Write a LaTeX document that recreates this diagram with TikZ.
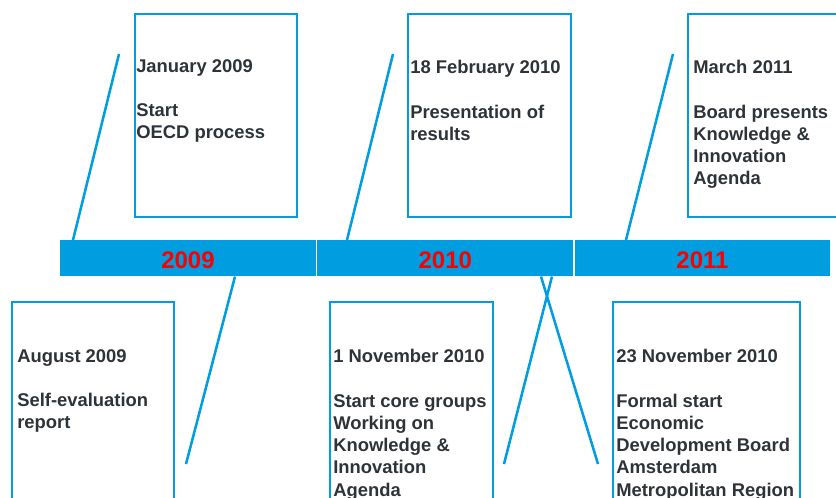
\documentclass[tikz,border=0pt]{standalone}
\usepackage{fontspec}
\setmainfont{Liberation Sans}
\usetikzlibrary{calc,positioning}
\definecolor{Bar}{HTML}{009EE0}
\definecolor{Ink}{HTML}{2E3338}
\definecolor{Year}{HTML}{FA0000}

\begin{document}
\begin{tikzpicture}[x=0.75pt,y=-0.75pt,
  yearbar/.style={rectangle,fill=Bar,inner sep=0pt,minimum height=27pt,anchor=north west,
    text=Year,text height=15pt,font=\fontsize{18pt}{20pt}\selectfont\bfseries},
  eventbox/.style={rectangle,draw=Bar,line width=1.7pt,inner sep=0pt,anchor=north west},
  note/.style={anchor=north west,inner sep=0pt,align=left,text=Ink,
    font=\fontsize{13.8pt}{16.7pt}\selectfont\bfseries},
  pointer/.style={draw=Bar,line width=1.9pt}]
\useasboundingbox (0,0) rectangle (836,497);
\clip (0,0) rectangle (836,497);
% time axis
\node[yearbar,minimum width=191.6pt] (y09) at (60,240) {2009};
\node[yearbar,minimum width=192pt] (y10) at (317,240) {2010};
\node[yearbar,minimum width=191.6pt] (y11) at (574.5,240) {2011};
% events above the axis
\node[eventbox,minimum width=121.5pt,minimum height=152.25pt] (jan09) at (134,13) {};
\node[note] (jan09txt) at ($(jan09.north west)+(2,46)$) {January 2009\\[16.7pt]Start\\OECD process};
\node[eventbox,minimum width=122.25pt,minimum height=152.25pt] (feb10) at (407,13) {};
\node[note] (feb10txt) at ($(feb10.north west)+(3,47)$) {18 February 2010\\[16.7pt]Presentation of\\results};
\node[eventbox,minimum width=122.25pt,minimum height=152.25pt] (mar11) at (687,13) {};
\node[note] (mar11txt) at ($(mar11.north west)+(6,47)$) {March 2011\\[16.7pt]Board presents\\Knowledge \&\\Innovation\\Agenda};
% events below the axis
\node[eventbox,minimum width=121.5pt,minimum height=156.75pt] (aug09) at (11,301) {};
\node[note] (aug09txt) at ($(aug09.north west)+(6,48)$) {August 2009\\[16.7pt]Self-evaluation\\report};
\node[eventbox,minimum width=122.25pt,minimum height=156.75pt] (nov10a) at (329,301) {};
\node[note] (nov10atxt) at ($(nov10a.north west)+(4,48)$) {1 November 2010\\[16.7pt]Start core groups\\Working on\\Knowledge \&\\Innovation\\Agenda};
\node[eventbox,minimum width=140.25pt,minimum height=156.75pt] (nov10b) at (612,301) {};
\node[note] (nov10btxt) at ($(nov10b.north west)+(4,48)$) {23 November 2010\\[16.7pt]Formal start\\Economic\\Development Board\\Amsterdam\\Metropolitan Region};
% pointers
\coordinate (jan09tip) at (119,54);
\coordinate (feb10tip) at (393,54);
\coordinate (mar11tip) at (673,54);
\coordinate (aug09tip) at (186,464);
\coordinate (nov10atip) at (504,464);
\coordinate (nov10btip) at (598,464);
\draw[pointer] ($(y09.north west)+(13,0)$) -- (jan09tip);
\draw[pointer] ($(y10.north west)+(30,0)$) -- (feb10tip);
\draw[pointer] ($(y11.north west)+(51.5,0)$) -- (mar11tip);
\draw[pointer] ($(y09.south west)+(175,0)$) -- (aug09tip);
\draw[pointer] ($(y10.south west)+(235,0)$) -- (nov10atip);
\draw[pointer] ($(y10.south west)+(224,0)$) -- (nov10btip);
\end{tikzpicture}
\end{document}
